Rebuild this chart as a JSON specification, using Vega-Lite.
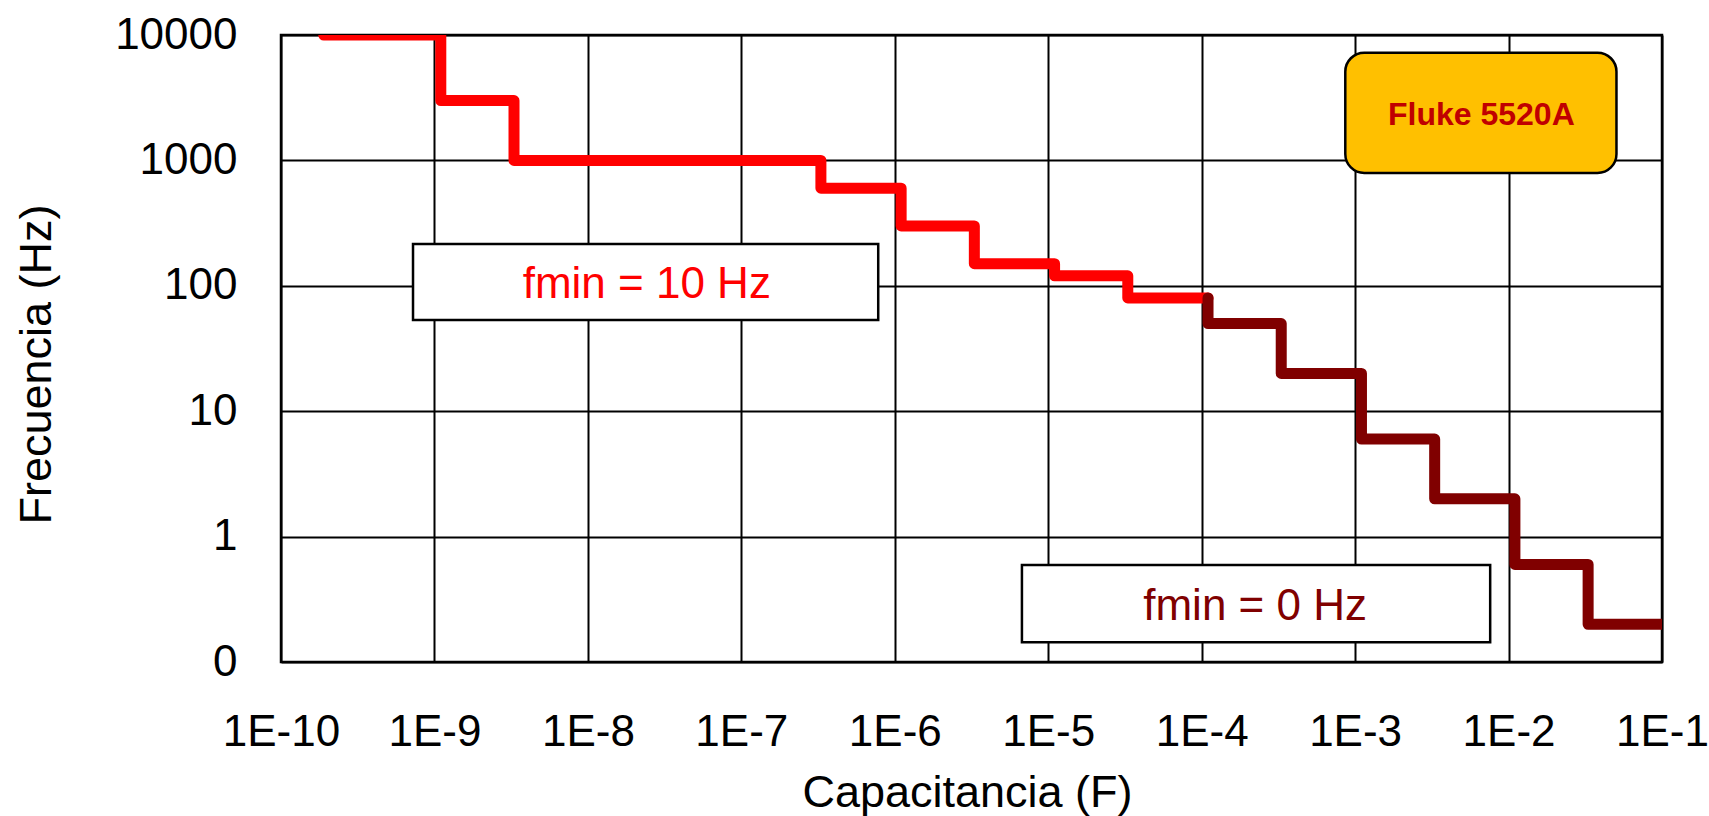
{
  "$schema": "https://vega.github.io/schema/vega-lite/v6.json",
  "width": 1381,
  "height": 627,
  "autosize": {"type": "none"},
  "padding": {"left": 281, "top": 35, "right": 47, "bottom": 154},
  "background": "white",
  "datasets": {
    "escalones": [
      {"serie": "fmin = 10 Hz", "C": 1.9e-10, "f": 10000},
      {"serie": "fmin = 10 Hz", "C": 4e-10, "f": 10000},
      {"serie": "fmin = 10 Hz", "C": 1.1e-9, "f": 10000},
      {"serie": "fmin = 10 Hz", "C": 3.3e-9, "f": 3000},
      {"serie": "fmin = 10 Hz", "C": 1.1e-8, "f": 1000},
      {"serie": "fmin = 10 Hz", "C": 3.3e-8, "f": 1000},
      {"serie": "fmin = 10 Hz", "C": 1.1e-7, "f": 1000},
      {"serie": "fmin = 10 Hz", "C": 3.3e-7, "f": 1000},
      {"serie": "fmin = 10 Hz", "C": 1.1e-6, "f": 600},
      {"serie": "fmin = 10 Hz", "C": 3.3e-6, "f": 300},
      {"serie": "fmin = 10 Hz", "C": 1.1e-5, "f": 150},
      {"serie": "fmin = 10 Hz", "C": 3.3e-5, "f": 120},
      {"serie": "fmin = 10 Hz", "C": 1.1e-4, "f": 80},
      {"serie": "fmin = 0 Hz", "C": 1.1e-4, "f": 80},
      {"serie": "fmin = 0 Hz", "C": 3.3e-4, "f": 50},
      {"serie": "fmin = 0 Hz", "C": 1.1e-3, "f": 20},
      {"serie": "fmin = 0 Hz", "C": 3.3e-3, "f": 6},
      {"serie": "fmin = 0 Hz", "C": 1.1e-2, "f": 2},
      {"serie": "fmin = 0 Hz", "C": 3.3e-2, "f": 0.6},
      {"serie": "fmin = 0 Hz", "C": 1.1e-1, "f": 0.2}
    ],
    "anotaciones": [
      {"id": "fmin10", "texto": "fmin = 10 Hz", "C": 2.42e-8, "f": 80, "C1": 7.25e-10, "C2": 7.8e-7, "f1": 53.4, "f2": 215},
      {"id": "fmin0", "texto": "fmin = 0 Hz", "C": 2.23e-4, "f": 0.216, "C1": 6.74e-6, "C2": 7.59e-3, "f1": 0.1436, "f2": 0.594},
      {"id": "fluke", "texto": "Fluke 5520A", "C": 6.65e-3, "f": 1927, "C1": 8.63e-4, "C2": 0.0505, "f1": 793, "f2": 7227}
    ]
  },
  "layer": [
    {
      "data": {"name": "escalones"},
      "transform": [{"filter": "datum.serie == 'fmin = 10 Hz'"}],
      "mark": {"type": "line", "interpolate": "step-before", "color": "#FF0000", "strokeWidth": 11, "strokeJoin": "round", "strokeCap": "round", "clip": true},
      "encoding": {
        "x": {"field": "C", "type": "quantitative", "title": "Capacitancia (F)",
              "scale": {"type": "log", "domain": [1e-10, 0.1]},
              "axis": {"values": [1e-10, 1e-9, 1e-8, 1e-7, 1e-6, 1e-5, 1e-4, 1e-3, 1e-2, 1e-1]}},
        "y": {"field": "f", "type": "quantitative", "title": "Frecuencia (Hz)",
              "scale": {"type": "log", "domain": [0.1, 10000]},
              "axis": {"values": [0.1, 1, 10, 100, 1000, 10000]}}
      }
    },
    {
      "data": {"name": "escalones"},
      "transform": [{"filter": "datum.serie == 'fmin = 0 Hz'"}],
      "mark": {"type": "line", "interpolate": "step-before", "color": "#800000", "strokeWidth": 11, "strokeJoin": "round", "strokeCap": "round", "clip": true},
      "encoding": {
        "x": {"field": "C", "type": "quantitative", "title": "Capacitancia (F)"},
        "y": {"field": "f", "type": "quantitative", "title": "Frecuencia (Hz)"}
      }
    },
    {
      "data": {"name": "anotaciones"},
      "transform": [{"filter": "datum.id != 'fluke'"}],
      "mark": {"type": "rect", "fill": "white", "stroke": "black", "strokeWidth": 2.5},
      "encoding": {
        "x": {"field": "C1", "type": "quantitative", "title": "Capacitancia (F)"},
        "x2": {"field": "C2"},
        "y": {"field": "f1", "type": "quantitative", "title": "Frecuencia (Hz)"},
        "y2": {"field": "f2"}
      }
    },
    {
      "data": {"name": "anotaciones"},
      "transform": [{"filter": "datum.id == 'fluke'"}],
      "mark": {"type": "rect", "fill": "#FFC000", "stroke": "black", "strokeWidth": 2.5, "cornerRadius": 19},
      "encoding": {
        "x": {"field": "C1", "type": "quantitative", "title": "Capacitancia (F)"},
        "x2": {"field": "C2"},
        "y": {"field": "f1", "type": "quantitative", "title": "Frecuencia (Hz)"},
        "y2": {"field": "f2"}
      }
    },
    {
      "data": {"name": "anotaciones"},
      "transform": [{"filter": "datum.id == 'fmin10'"}],
      "mark": {"type": "text", "color": "#FF0000", "font": "Liberation Sans", "fontSize": 44, "align": "center", "baseline": "alphabetic"},
      "encoding": {
        "x": {"field": "C", "type": "quantitative", "title": "Capacitancia (F)"},
        "y": {"field": "f", "type": "quantitative", "title": "Frecuencia (Hz)"},
        "text": {"field": "texto"}
      }
    },
    {
      "data": {"name": "anotaciones"},
      "transform": [{"filter": "datum.id == 'fmin0'"}],
      "mark": {"type": "text", "color": "#800000", "font": "Liberation Sans", "fontSize": 44, "align": "center", "baseline": "alphabetic"},
      "encoding": {
        "x": {"field": "C", "type": "quantitative", "title": "Capacitancia (F)"},
        "y": {"field": "f", "type": "quantitative", "title": "Frecuencia (Hz)"},
        "text": {"field": "texto"}
      }
    },
    {
      "data": {"name": "anotaciones"},
      "transform": [{"filter": "datum.id == 'fluke'"}],
      "mark": {"type": "text", "color": "#C00000", "font": "Liberation Sans", "fontSize": 32, "fontWeight": "bold", "align": "center", "baseline": "alphabetic"},
      "encoding": {
        "x": {"field": "C", "type": "quantitative", "title": "Capacitancia (F)"},
        "y": {"field": "f", "type": "quantitative", "title": "Frecuencia (Hz)"},
        "text": {"field": "texto"}
      }
    }
  ],
  "config": {
    "view": {"stroke": "black", "strokeWidth": 2.5},
    "axis": {
      "grid": true, "gridColor": "black", "gridWidth": 2, "gridOpacity": 1,
      "domain": false, "ticks": false, "tickSize": 0,
      "labelFont": "Liberation Sans", "labelFontSize": 44, "labelColor": "black",
      "labelOverlap": false, "labelFlush": false,
      "titleFont": "Liberation Sans", "titleFontSize": 45, "titleFontWeight": "normal", "titleColor": "black"
    },
    "axisX": {
      "labelBaseline": "alphabetic", "labelPadding": 83,
      "labelExpr": "'1E' + round(log(datum.value) / LN10)",
      "titleBaseline": "alphabetic", "titleX": 686, "titleY": 144, "titleAlign": "center"
    },
    "axisY": {
      "labelPadding": 44, "labelBaseline": "middle",
      "labelExpr": "datum.value < 1 ? '0' : format(datum.value, 'd')",
      "titleX": -231, "titleY": 329, "titleBaseline": "alphabetic", "titleAngle": -90, "titleAlign": "center"
    }
  }
}
